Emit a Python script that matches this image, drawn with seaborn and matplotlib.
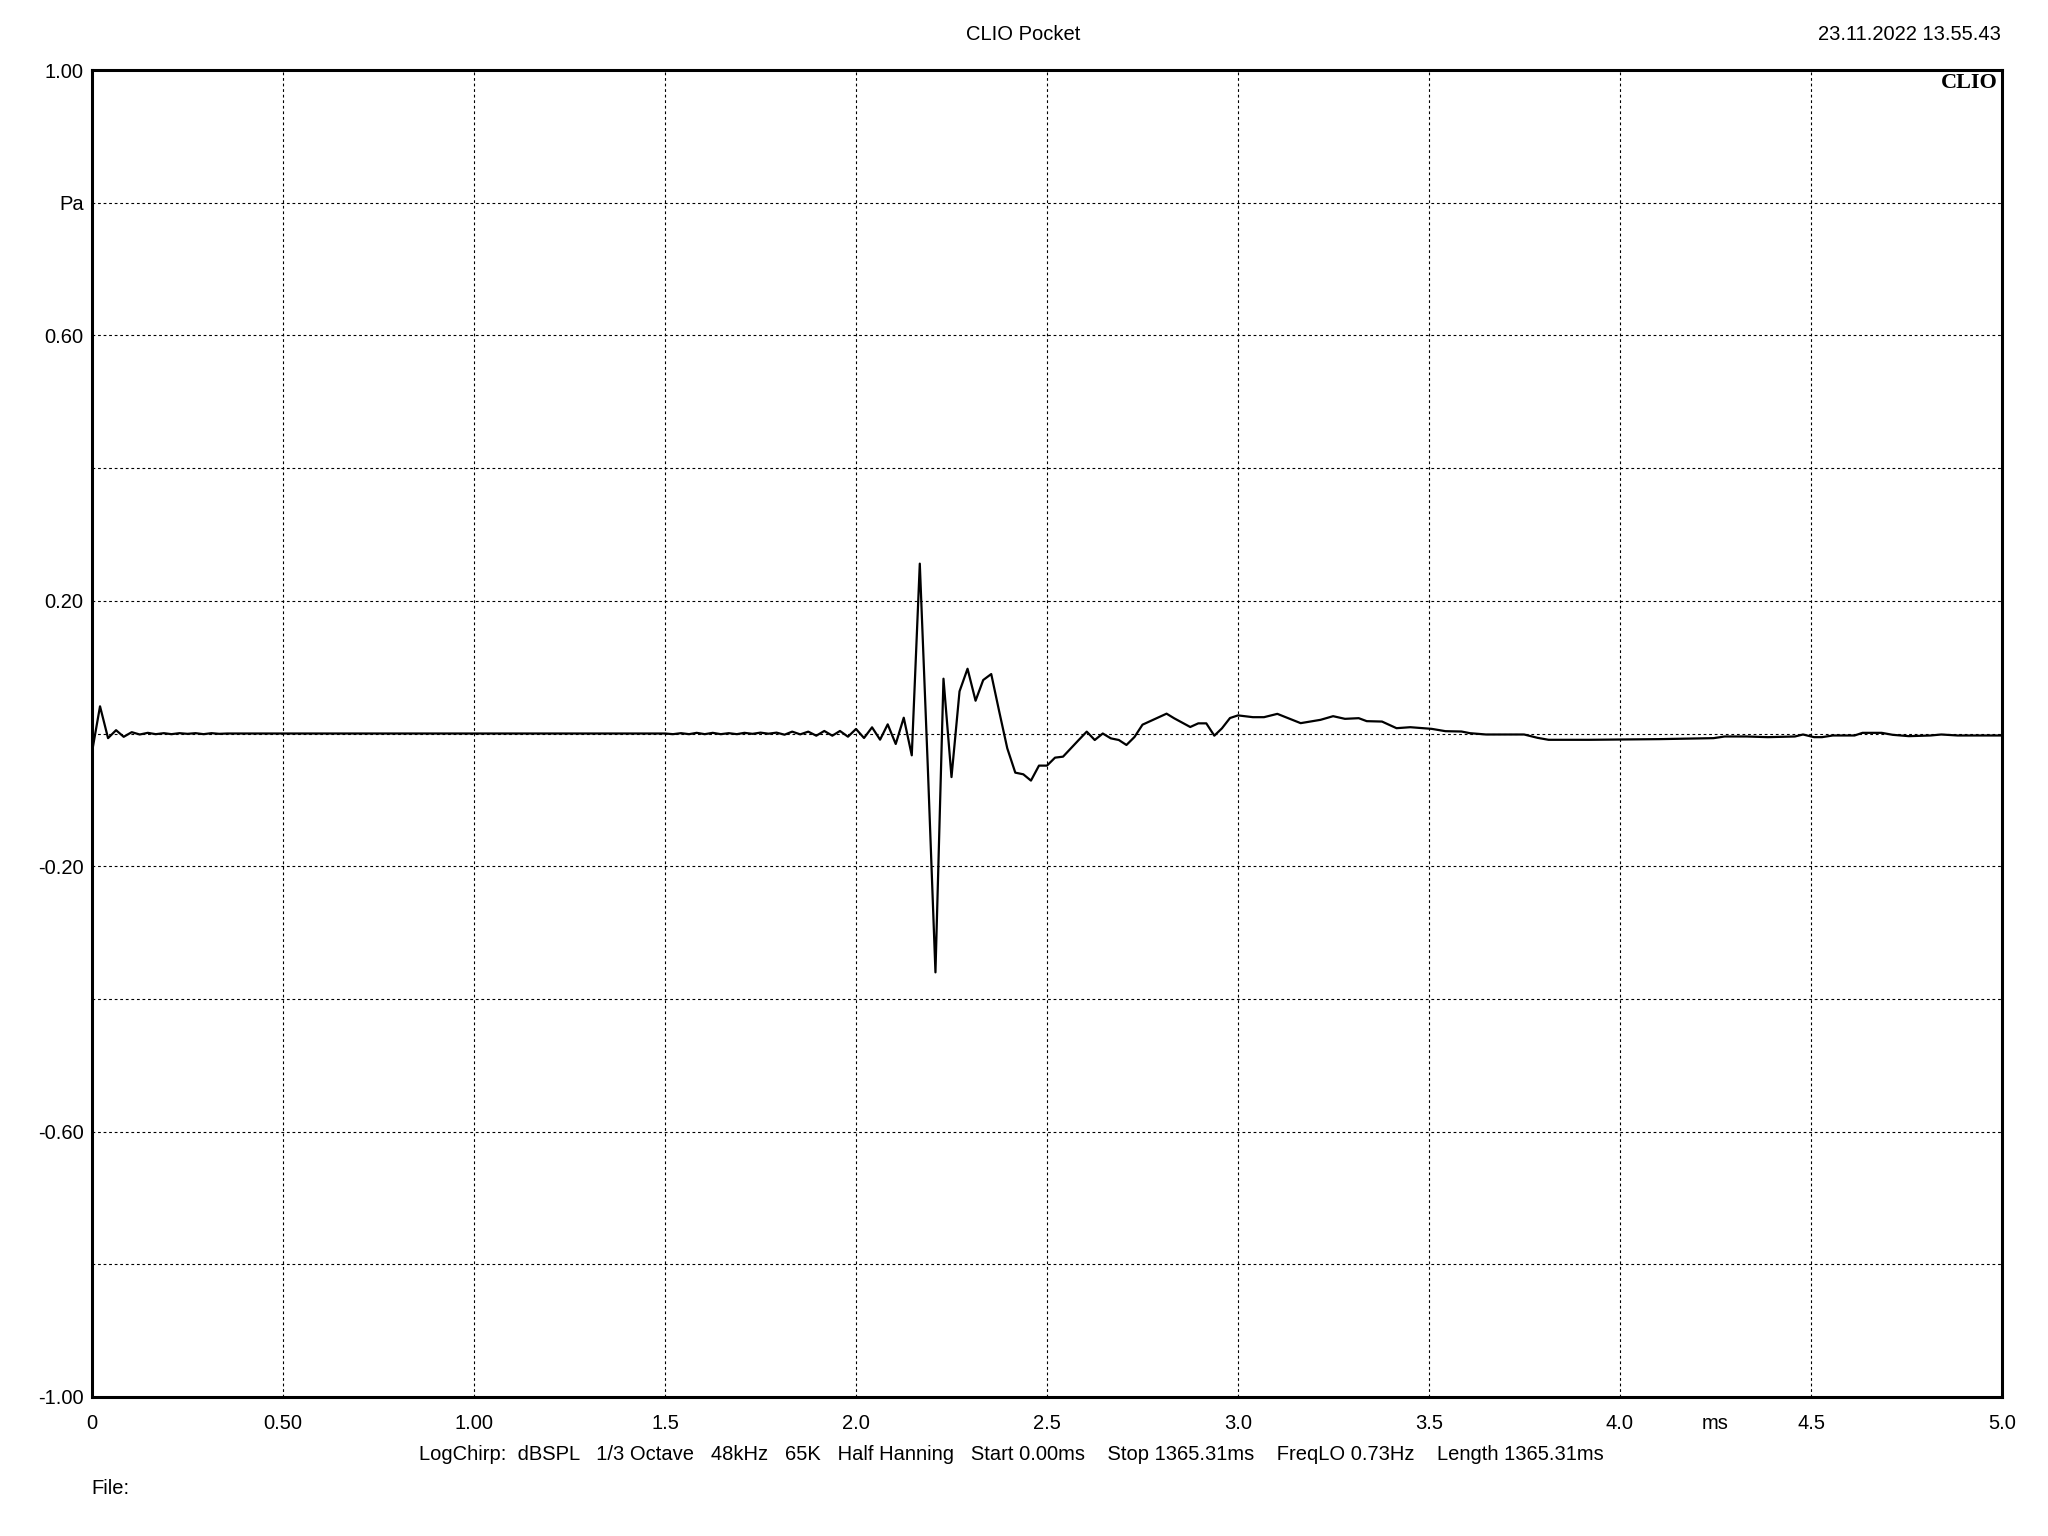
import matplotlib
matplotlib.use("Agg")
import matplotlib.pyplot as plt
import matplotlib.transforms as mtransforms
import seaborn as sns
import pandas as pd

# ---- data (time in ms, pressure in Pa) ----
time_ms = [
    0.000, 0.021, 0.042, 0.063, 0.083, 0.104, 0.125, 0.146, 0.167, 0.188,
    0.208, 0.229, 0.250, 0.271, 0.292, 0.313, 0.333, 0.354,
    1.500, 1.521, 1.542, 1.563, 1.583, 1.604, 1.625, 1.646, 1.667, 1.688,
    1.708, 1.729, 1.750, 1.771, 1.792, 1.813, 1.833, 1.854, 1.875, 1.896,
    1.917, 1.938, 1.958, 1.979, 2.000, 2.021, 2.042, 2.063, 2.083, 2.104,
    2.125, 2.146, 2.167, 2.188, 2.208, 2.229, 2.250, 2.271, 2.292, 2.313,
    2.333, 2.354, 2.375, 2.396, 2.417, 2.438, 2.458, 2.479, 2.500, 2.521,
    2.542, 2.563, 2.583, 2.604, 2.625, 2.646, 2.667, 2.688, 2.708, 2.729,
    2.750, 2.771, 2.792, 2.813, 2.833, 2.854, 2.875, 2.896, 2.917, 2.938,
    2.958, 2.979, 3.000,
    3.039, 3.068, 3.103, 3.164, 3.216, 3.249, 3.280, 3.316, 3.337, 3.377,
    3.415, 3.451, 3.507, 3.543, 3.585, 3.607, 3.649, 3.749, 3.784, 3.813,
    3.919, 4.103, 4.245, 4.274, 4.331, 4.387, 4.458, 4.479, 4.508, 4.529,
    4.557, 4.614, 4.635, 4.685, 4.714, 4.756, 4.813, 4.841, 4.884, 5.000,
]
pressure_pa = [
    -0.028, 0.041, -0.007, 0.005, -0.005, 0.002, -0.0015, 0.001, -0.001, 0.0005,
    -0.001, 0.0005, -0.0005, 0.0005, -0.001, 0.0005, -0.0005, 0.0,
    0.0, -0.001, 0.0005, -0.001, 0.001, -0.001, 0.001, -0.001, 0.0005, -0.001,
    0.001, -0.0005, 0.0013, -0.0003, 0.0013, -0.0018, 0.0028, -0.0013, 0.0028, -0.0033,
    0.0038, -0.0033, 0.0038, -0.0048, 0.0068, -0.0068, 0.0093, -0.0093, 0.0138, -0.0158,
    0.0238, -0.0329, 0.256, -0.051, -0.360, 0.0826, -0.0657, 0.0635, 0.0976, 0.0494,
    0.0806, 0.0896, 0.0329, -0.0223, -0.0590, -0.0615, -0.0710, -0.0484, -0.0484, -0.0364,
    -0.0349, -0.022, -0.0098, 0.0028, -0.0098, 0.0, -0.0073, -0.0098, -0.0173, -0.0053,
    0.0133, 0.0188, 0.0243, 0.0299, 0.0229, 0.0163, 0.0098, 0.0153, 0.0153, -0.0033,
    0.0078, 0.0233, 0.0273,
    0.0246, 0.0246, 0.0296, 0.0156, 0.0206, 0.0261, 0.0221, 0.0231, 0.0186, 0.018,
    0.008, 0.0095, 0.007, 0.0035, 0.003, 0.0005, -0.0015, -0.0015, -0.0065, -0.0095,
    -0.0095, -0.0085, -0.007, -0.0045, -0.0045, -0.0055, -0.0045, -0.0015, -0.0055, -0.0055,
    -0.003, -0.003, 0.001, 0.001, -0.002, -0.004, -0.003, -0.0015, -0.003, -0.003,
]

x_ticks = [0, 0.5, 1.0, 1.5, 2.0, 2.5, 3.0, 3.5, 4.0, 4.5, 5.0]
x_tick_labels = ["0", "0.50", "1.00", "1.5", "2.0", "2.5", "3.0", "3.5", "4.0", "4.5", "5.0"]
y_ticks = [1.0, 0.8, 0.6, 0.4, 0.2, 0.0, -0.2, -0.4, -0.6, -0.8, -1.0]
y_tick_labels = ["1.00", "Pa", "0.60", "", "0.20", "", "-0.20", "", "-0.60", "", "-1.00"]
x_unit_label = "ms"
x_unit_pos = 4.25

title_text = "CLIO Pocket"
date_text = "23.11.2022 13.55.43"
logo_text = "CLIO"
footer_text = ("LogChirp:  dBSPL   1/3 Octave   48kHz   65K   Half Hanning   Start 0.00ms    "
               "Stop 1365.31ms    FreqLO 0.73Hz    Length 1365.31ms")
file_text = "File:"

df = pd.DataFrame({"t": time_ms, "p": pressure_pa})

sns.set_theme(style="white")
plt.rcParams["font.family"] = ["Liberation Sans", "DejaVu Sans"]

FS = 14.5

fig = plt.figure(figsize=(20.48, 15.36), dpi=100)
ax = fig.add_axes([92 / 2048, 1 - 1397 / 1536, (2002 - 92) / 2048, (1397 - 70) / 1536])

sns.lineplot(data=df, x="t", y="p", ax=ax, color="black", linewidth=1.6,
             estimator=None, sort=False)

ax.set_xlim(0, 5)
ax.set_ylim(-1, 1)
ax.set_xticks(x_ticks)
ax.set_xticklabels(x_tick_labels)
ax.set_yticks(y_ticks)
ax.set_yticklabels(y_tick_labels)
ax.set_xlabel("")
ax.set_ylabel("")

ax.grid(True, color="black", linestyle=(0, (2.5, 2.5)), linewidth=0.8)
for s in ax.spines.values():
    s.set_color("black")
    s.set_linewidth(2.2)
ax.tick_params(axis="x", which="both", direction="out", length=4, width=1,
               color="black", labelsize=FS, pad=8, labelcolor="black")
ax.tick_params(axis="y", which="both", length=0, labelsize=FS, pad=6, labelcolor="black")

unit_tr = mtransforms.blended_transform_factory(ax.transData, ax.transAxes) + \
    mtransforms.ScaledTranslation(0, -12 / 72, fig.dpi_scale_trans)
ax.text(x_unit_pos, 0.0, x_unit_label, transform=unit_tr, ha="center", va="top",
        fontsize=FS, color="black")

ax.text(0.998, 0.998, logo_text, transform=ax.transAxes, ha="right", va="top",
        fontsize=16, fontweight="bold", family="Liberation Serif", color="black")

fig.text(1023 / 2048, 1 - 34 / 1536, title_text, ha="center", va="center",
         fontsize=FS, color="black")
fig.text(2001 / 2048, 1 - 34 / 1536, date_text, ha="right", va="center",
         fontsize=FS, color="black")
fig.text(1011 / 2048, 1 - 1455 / 1536, footer_text, ha="center", va="center",
         fontsize=FS, color="black")
fig.text(91 / 2048, 1 - 1489 / 1536, file_text, ha="left", va="center",
         fontsize=FS, color="black")

fig.savefig("out.png", dpi=100, facecolor="white")
